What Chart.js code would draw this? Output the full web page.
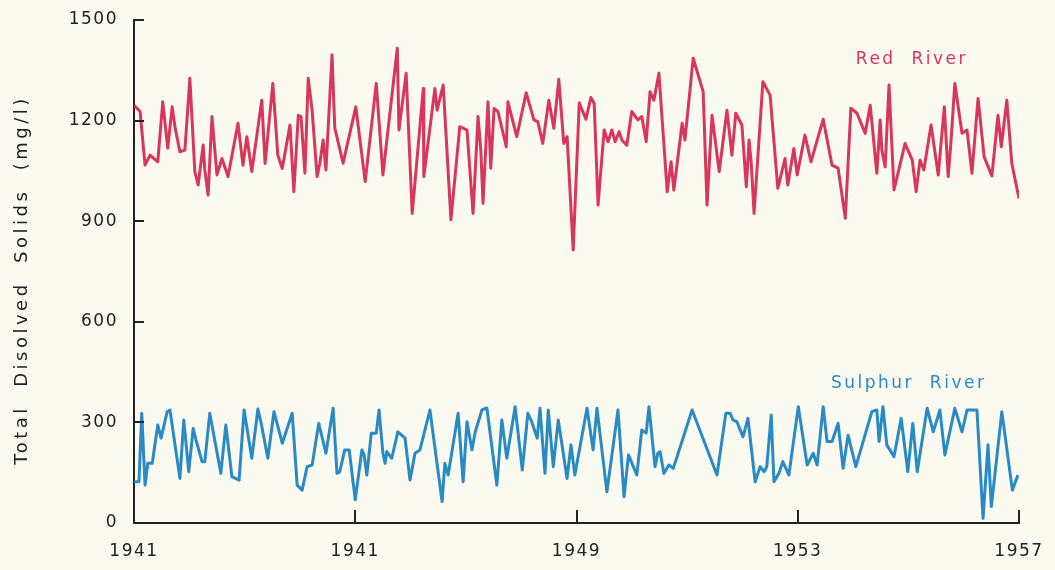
<!DOCTYPE html>
<html><head><meta charset="utf-8">
<script src="https://cdn.jsdelivr.net/npm/chart.js@4/dist/chart.umd.min.js"></script>
<style>html,body{margin:0;padding:0;background:#fafaf0;}#wrap{width:1055px;height:570px;}</style>
</head><body><div id="wrap"><canvas id="c" width="1055" height="570"></canvas></div>
<script>
const redYears = [1941.00,1941.11,1941.20,1941.29,1941.43,1941.52,1941.61,1941.69,1941.74,1941.83,
1941.92,1942.01,1942.10,1942.16,1942.25,1942.28,1942.34,1942.41,1942.50,1942.59,
1942.70,1942.88,1942.97,1943.04,1943.13,1943.31,1943.37,1943.51,1943.60,1943.68,
1943.82,1943.89,1943.97,1944.02,1944.09,1944.15,1944.22,1944.31,1944.36,1944.42,
1944.47,1944.58,1944.63,1944.78,1945.01,1945.18,1945.38,1945.50,1945.76,1945.79,
1945.92,1946.03,1946.23,1946.24,1946.44,1946.48,1946.59,1946.73,1946.89,1947.02,
1947.13,1947.22,1947.27,1947.31,1947.40,1947.45,1947.51,1947.58,1947.73,1947.76,
1947.92,1948.09,1948.23,1948.30,1948.39,1948.50,1948.59,1948.68,1948.77,1948.83,
1948.94,1949.05,1949.17,1949.26,1949.32,1949.39,1949.50,1949.57,1949.64,1949.70,
1949.77,1949.82,1949.91,1950.00,1950.11,1950.18,1950.26,1950.33,1950.40,1950.49,
1950.64,1950.71,1950.76,1950.91,1950.96,1951.11,1951.29,1951.36,1951.45,1951.58,
1951.72,1951.81,1951.88,1951.99,1952.07,1952.12,1952.16,1952.21,1952.37,1952.50,
1952.64,1952.77,1952.82,1952.93,1952.99,1953.13,1953.24,1953.46,1953.62,1953.73,
1953.86,1953.96,1954.07,1954.22,1954.31,1954.43,1954.49,1954.52,1954.58,1954.65,
1954.74,1954.94,1955.07,1955.14,1955.21,1955.28,1955.41,1955.54,1955.65,1955.72,
1955.77,1955.84,1955.97,1956.06,1956.15,1956.26,1956.37,1956.51,1956.62,1956.68,
1956.78,1956.87,1957.00];
const redValues = [1246,1227,1067,1097,1077,1256,1118,1241,1182,1107,
1112,1326,1048,1008,1127,1053,978,1212,1038,1087,
1033,1192,1067,1152,1048,1261,1072,1311,1097,1057,
1187,988,1216,1212,1043,1326,1231,1033,1073,1142,
1053,1396,1178,1073,1241,1018,1311,1038,1416,1172,
1341,923,1296,1033,1296,1231,1306,904,1182,1172,
923,1212,1112,953,1256,1058,1236,1227,1122,1256,
1152,1283,1202,1197,1132,1261,1177,1323,1132,1152,
814,1253,1204,1269,1251,948,1172,1137,1172,1137,
1167,1142,1127,1227,1202,1212,1137,1286,1261,1341,
988,1077,993,1192,1142,1386,1286,948,1216,1048,
1231,1097,1222,1187,1003,1142,1072,923,1316,1276,
998,1087,1008,1117,1038,1157,1077,1204,1067,1058,
909,1237,1222,1162,1246,1043,1202,1112,1062,1306,
993,1132,1082,988,1082,1053,1187,1038,1241,1033,
1137,1311,1162,1172,1043,1266,1092,1035,1216,1122,
1261,1072,968];
const sulphurYears = [1941.00,1941.09,1941.14,1941.20,1941.25,1941.33,1941.43,1941.49,1941.60,1941.65,
1941.83,1941.90,1941.99,1942.07,1942.12,1942.23,1942.28,1942.37,1942.57,1942.66,
1942.77,1942.90,1942.99,1943.13,1943.24,1943.30,1943.42,1943.53,1943.68,1943.86,
1943.95,1944.04,1944.13,1944.22,1944.34,1944.47,1944.60,1944.67,1944.72,1944.81,
1944.89,1945.00,1945.12,1945.16,1945.21,1945.29,1945.38,1945.43,1945.50,1945.54,
1945.57,1945.66,1945.77,1945.90,1945.99,1946.08,1946.17,1946.35,1946.57,1946.62,
1946.68,1946.86,1946.95,1947.02,1947.11,1947.17,1947.29,1947.38,1947.56,1947.65,
1947.74,1947.89,1948.02,1948.12,1948.19,1948.29,1948.34,1948.43,1948.49,1948.58,
1948.67,1948.83,1948.90,1948.97,1949.19,1949.30,1949.37,1949.55,1949.75,1949.86,
1949.94,1950.09,1950.18,1950.26,1950.31,1950.42,1950.47,1950.51,1950.58,1950.67,
1950.75,1951.09,1951.54,1951.70,1951.78,1951.83,1951.90,1952.01,1952.10,1952.23,
1952.32,1952.39,1952.44,1952.52,1952.57,1952.66,1952.73,1952.84,1953.01,1953.17,
1953.28,1953.35,1953.46,1953.53,1953.62,1953.73,1953.82,1953.91,1954.05,1954.34,
1954.43,1954.47,1954.54,1954.61,1954.74,1954.87,1954.99,1955.08,1955.16,1955.34,
1955.45,1955.57,1955.66,1955.84,1955.97,1956.06,1956.24,1956.35,1956.44,1956.50,
1956.69,1956.88,1956.98];
const sulphurValues = [123,123,327,113,178,178,292,253,332,337,
133,307,153,282,248,183,183,327,148,292,
138,128,337,193,340,297,193,332,238,327,
113,98,168,173,297,208,342,148,153,218,
218,69,218,203,143,268,268,337,208,178,
213,193,272,253,128,208,218,337,64,178,
143,327,123,302,218,272,337,343,113,307,
193,347,158,327,302,253,342,148,337,168,
307,133,233,143,342,218,342,93,337,78,
203,143,277,268,347,168,208,213,148,173,
163,337,143,327,327,307,302,257,312,123,
168,153,168,322,123,148,183,143,347,173,
208,173,347,243,243,297,163,262,168,332,
337,243,347,233,198,312,153,297,153,342,
272,337,203,342,272,337,337,14,233,49,
332,98,143];
const yearTicks = [1941, 1945, 1949, 1953, 1957];
const yearTickLabels = ['1941', '1941', '1949', '1953', '1957'];
const valueTicks = [0, 300, 600, 900, 1200, 1500];
const seriesNames = ['Red  River', 'Sulphur  River'];
const yAxisTitle = 'Total  Disolved  Solids  (mg/l)';

const RED = '#d9365c';
const BLUE = '#2a8ac6';
const INK = '#222222';
const FONT = '"DejaVu Sans", sans-serif';

const spacingPlugin = {
  id: 'spacing',
  beforeDraw(chart) { chart.ctx.letterSpacing = '1.5px'; }
};

const marksPlugin = {
  id: 'marks',
  afterDraw(chart) {
    const ctx = chart.ctx, xs = chart.scales.x, ys = chart.scales.y, a = chart.chartArea;
    ctx.save();
    ctx.strokeStyle = INK; ctx.lineWidth = 2;
    valueTicks.forEach(v => {
      if (v === 0) return;
      const y = Math.round(ys.getPixelForValue(v));
      ctx.beginPath(); ctx.moveTo(a.left, y); ctx.lineTo(a.left + 10, y); ctx.stroke();
    });
    yearTicks.forEach((v, i) => {
      if (i === 0) return;
      const x = Math.round(xs.getPixelForValue(v));
      ctx.beginPath(); ctx.moveTo(x, a.bottom); ctx.lineTo(x, a.bottom - 13); ctx.stroke();
    });
    // y-axis title
    ctx.save();
    ctx.translate(22, 280);
    ctx.rotate(-Math.PI / 2);
    ctx.letterSpacing = '3.5px';
    ctx.font = '18px ' + FONT;
    ctx.fillStyle = INK;
    ctx.textAlign = 'center'; ctx.textBaseline = 'middle';
    ctx.fillText(yAxisTitle, 0, 0);
    ctx.restore();
    // series labels
    ctx.letterSpacing = '2.5px';
    ctx.font = '17px ' + FONT;
    ctx.textBaseline = 'middle'; ctx.textAlign = 'left';
    ctx.fillStyle = RED;
    ctx.fillText(seriesNames[0], xs.getPixelForValue(1954.05), ys.getPixelForValue(1381));
    ctx.fillStyle = BLUE;
    ctx.fillText(seriesNames[1], xs.getPixelForValue(1953.6), ys.getPixelForValue(417));
    ctx.restore();
  }
};

new Chart(document.getElementById('c'), {
  type: 'line',
  data: {
    datasets: [
      { label: seriesNames[0], data: redYears.map((x, i) => ({ x, y: redValues[i] })),
        borderColor: RED, borderWidth: 3, pointRadius: 0, tension: 0, fill: false, borderJoinStyle: 'round' },
      { label: seriesNames[1], data: sulphurYears.map((x, i) => ({ x, y: sulphurValues[i] })),
        borderColor: BLUE, borderWidth: 3, pointRadius: 0, tension: 0, fill: false, borderJoinStyle: 'round' }
    ]
  },
  options: {
    responsive: false, animation: false, devicePixelRatio: 1,
    layout: { autoPadding: false, padding: { top: 20, right: 36, left: 0, bottom: 0 } },
    plugins: { legend: { display: false }, tooltip: { enabled: false } },
    scales: {
      x: {
        type: 'linear', min: 1941, max: 1957,
        afterBuildTicks: s => { s.ticks = yearTicks.map(v => ({ value: v })); },
        afterFit: s => { s.height = 47; s.paddingLeft = 0; s.paddingRight = 0; },
        ticks: { autoSkip: false, maxRotation: 0, padding: 18, color: INK,
          font: { family: FONT, size: 17 },
          callback: v => yearTickLabels[yearTicks.indexOf(v)] },
        grid: { drawOnChartArea: false, drawTicks: false },
        border: { display: true, color: INK, width: 2 }
      },
      y: {
        min: 0, max: 1500,
        afterBuildTicks: s => { s.ticks = valueTicks.map(v => ({ value: v })); },
        afterFit: s => { s.width = 134; s.paddingTop = 0; s.paddingBottom = 0; },
        ticks: { padding: 16, color: INK, font: { family: FONT, size: 17 },
          callback: v => String(v) },
        grid: { drawOnChartArea: false, drawTicks: false },
        border: { display: true, color: INK, width: 2 },
        title: { display: false, text: yAxisTitle }
      }
    }
  },
  plugins: [spacingPlugin, marksPlugin]
});
</script>
</body></html>
